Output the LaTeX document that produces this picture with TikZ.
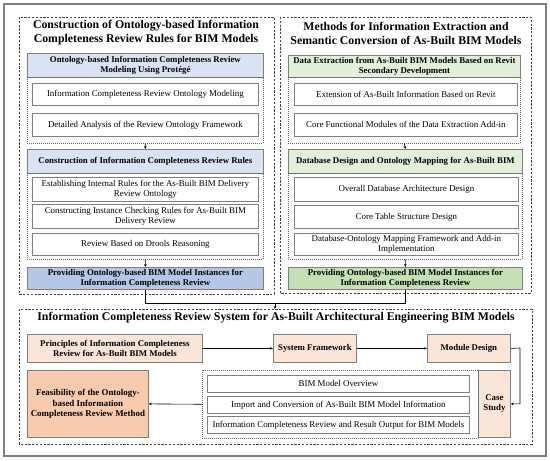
\documentclass[tikz,border=0pt]{standalone}
\usepackage{fontspec}
\setmainfont{Liberation Serif}
\usetikzlibrary{arrows.meta}
\definecolor{blueA}{HTML}{DAE3F3}
\definecolor{blueB}{HTML}{B4C7E7}
\definecolor{greenA}{HTML}{E2F0D9}
\definecolor{greenB}{HTML}{C5E0B4}
\definecolor{peachA}{HTML}{FBE5D6}
\definecolor{peachB}{HTML}{F8CBAD}
\definecolor{frame}{HTML}{7F7F7F}
\newcommand\fsz[2]{\fontsize{#1}{#2}\selectfont}
\tikzset{
  panel/.style={draw=black!75, line width=0.9pt, dash pattern=on 2.2pt off 1.6pt},
  inner/.style={draw=black!60, line width=0.5pt, dash pattern=on 1pt off 1pt},
  bx/.style={draw=frame, line width=0.8pt, inner sep=0pt, align=center, anchor=north west},
  wbox/.style={bx, fill=white, font=\fsz{8.9}{10.3}},
  hbox/.style={bx, font=\bfseries\fsz{8.8}{10.2}},
  ttl/.style={font=\bfseries\fsz{11.8}{14}, align=center},
  conn/.style={draw=black, line width=0.6pt},
  arr/.style={conn, -{Stealth[length=3pt,width=2.6pt]}}
}
\begin{document}
\begin{tikzpicture}[x=1pt,y=-1pt]
\useasboundingbox (0,0) rectangle (550,461);
\draw[draw=frame, line width=1.2pt] (4,4) rectangle (546,456);
% panels
\draw[panel] (19,17) rectangle (274,294);
\draw[panel] (280,17) rectangle (531,293);
\draw[panel] (19,309) rectangle (532,444);
\coordinate (bp) at (275,309);
% titles
\node[ttl] (lt) at (146,33) {Construction of Ontology-based Information\\Completeness Review Rules for BIM Models};
\node[ttl] (rt) at (406,33) {Methods for Information Extraction and\\Semantic Conversion of As-Built BIM Models};
\node[ttl] (bt) at (276,318) {Information Completeness Review System for As-Built Architectural Engineering BIM Models};
% ---------- left column
\node[hbox, fill=blueA, minimum width=236pt, minimum height=24pt] (lh1) at (27,53) {Ontology-based Information Completeness Review\\Modeling Using Protégé};
\node[inner, inner sep=0pt, anchor=north west, minimum width=236pt, minimum height=66pt] (ld1) at (27,77) {};
\node[wbox, minimum width=226pt, minimum height=22pt] (lw1) at (32,83) {Information Completeness Review Ontology Modeling};
\node[wbox, minimum width=226pt, minimum height=23pt] (lw2) at (32,113) {Detailed Analysis of the Review Ontology Framework};
\node[hbox, fill=blueA, minimum width=236pt, minimum height=24pt] (lh2) at (27,149) {Construction of Information Completeness Review Rules};
\node[inner, inner sep=0pt, anchor=north west, minimum width=236pt, minimum height=86pt] (ld2) at (27,173) {};
\node[wbox, minimum width=226pt, minimum height=24pt] (lw3) at (32,177) {Establishing Internal Rules for the As-Built BIM Delivery\\Review Ontology};
\node[wbox, minimum width=226pt, minimum height=24pt] (lw4) at (32,204) {Constructing Instance Checking Rules for As-Built BIM\\Delivery Review};
\node[wbox, minimum width=226pt, minimum height=22pt] (lw5) at (32,233) {Review Based on Drools Reasoning};
\node[hbox, fill=blueB, minimum width=236pt, minimum height=22pt] (lh3) at (27,267) {Providing Ontology-based BIM Model Instances for\\Information Completeness Review};
% ---------- right column
\node[hbox, fill=greenA, minimum width=232pt, minimum height=22pt] (rh1) at (288,55) {Data Extraction from As-Built BIM Models Based on Revit\\Secondary Development};
\node[inner, inner sep=0pt, anchor=north west, minimum width=232pt, minimum height=66pt] (rd1) at (288,77) {};
\node[wbox, minimum width=223pt, minimum height=22pt] (rw1) at (294,83) {Extension of As-Built Information Based on Revit};
\node[wbox, minimum width=223pt, minimum height=23pt] (rw2) at (294,113) {Core Functional Modules of the Data Extraction Add-in};
\node[hbox, fill=greenA, minimum width=234pt, minimum height=24pt] (rh2) at (288,149) {Database Design and Ontology Mapping for As-Built BIM};
\node[inner, inner sep=0pt, anchor=north west, minimum width=234pt, minimum height=86pt] (rd2) at (288,173) {};
\node[wbox, minimum width=224pt, minimum height=24pt] (rw3) at (294,177) {Overall Database Architecture Design};
\node[wbox, minimum width=224pt, minimum height=23pt] (rw4) at (294,205) {Core Table Structure Design};
\node[wbox, minimum width=224pt, minimum height=22pt] (rw5) at (294,233) {Database-Ontology Mapping Framework and Add-in\\Implementation};
\node[hbox, fill=greenB, minimum width=234pt, minimum height=22pt] (rh3) at (288,267) {Providing Ontology-based BIM Model Instances for\\Information Completeness Review};
% ---------- bottom
\node[hbox, fill=peachA, minimum width=175pt, minimum height=28pt] (pr) at (27,334) {Principles of Information Completeness\\Review for As-Built BIM Models};
\node[hbox, fill=peachA, minimum width=83pt, minimum height=28pt] (sf) at (273,334) {System Framework};
\node[hbox, fill=peachA, minimum width=83pt, minimum height=28pt] (md) at (427,334) {Module Design};
\node[hbox, fill=peachA, minimum width=32pt, minimum height=67pt] (cs) at (478,370) {Case\\Study};
\node[inner, inner sep=0pt, anchor=north west, minimum width=276pt, minimum height=68pt] (bd) at (202,370) {};
\node[wbox, minimum width=262pt, minimum height=17pt] (bw1) at (207,375) {BIM Model Overview};
\node[wbox, minimum width=262pt, minimum height=17pt] (bw2) at (207,396) {Import and Conversion of As-Built BIM Model Information};
\node[wbox, minimum width=262pt, minimum height=17pt] (bw3) at (207,416) {Information Completeness Review and Result Output for BIM Models};
\node[hbox, fill=peachB, minimum width=121pt, minimum height=67pt, font=\bfseries\fsz{8.9}{10.8}] (fe) at (27,370) {Feasibility of the Ontology-\\based Information\\Completeness Review Method};
% ---------- connectors
\draw[arr] (ld1.south) -- (lh2.north);
\draw[arr] (ld2.south) -- (lh3.north);
\draw[arr] (rd1.south) -- (rh2.north);
\draw[arr] (rd2.south) -- (rh3.north);
\coordinate (m) at (275,303);
\draw[conn] (lh3.south) |- (m);
\draw[conn] (rh3.south) |- (m);
\draw[arr] (m) -- (bp);
\draw[arr] (pr.east) -- (sf.west);
\draw[arr] (sf.east) -- (md.west);
\coordinate (mr) at (520,348);
\draw[arr] (md.east) -- (mr) |- (cs.east);
\draw[arr] (bd.west) -- (fe.east);
\end{tikzpicture}
\end{document}
